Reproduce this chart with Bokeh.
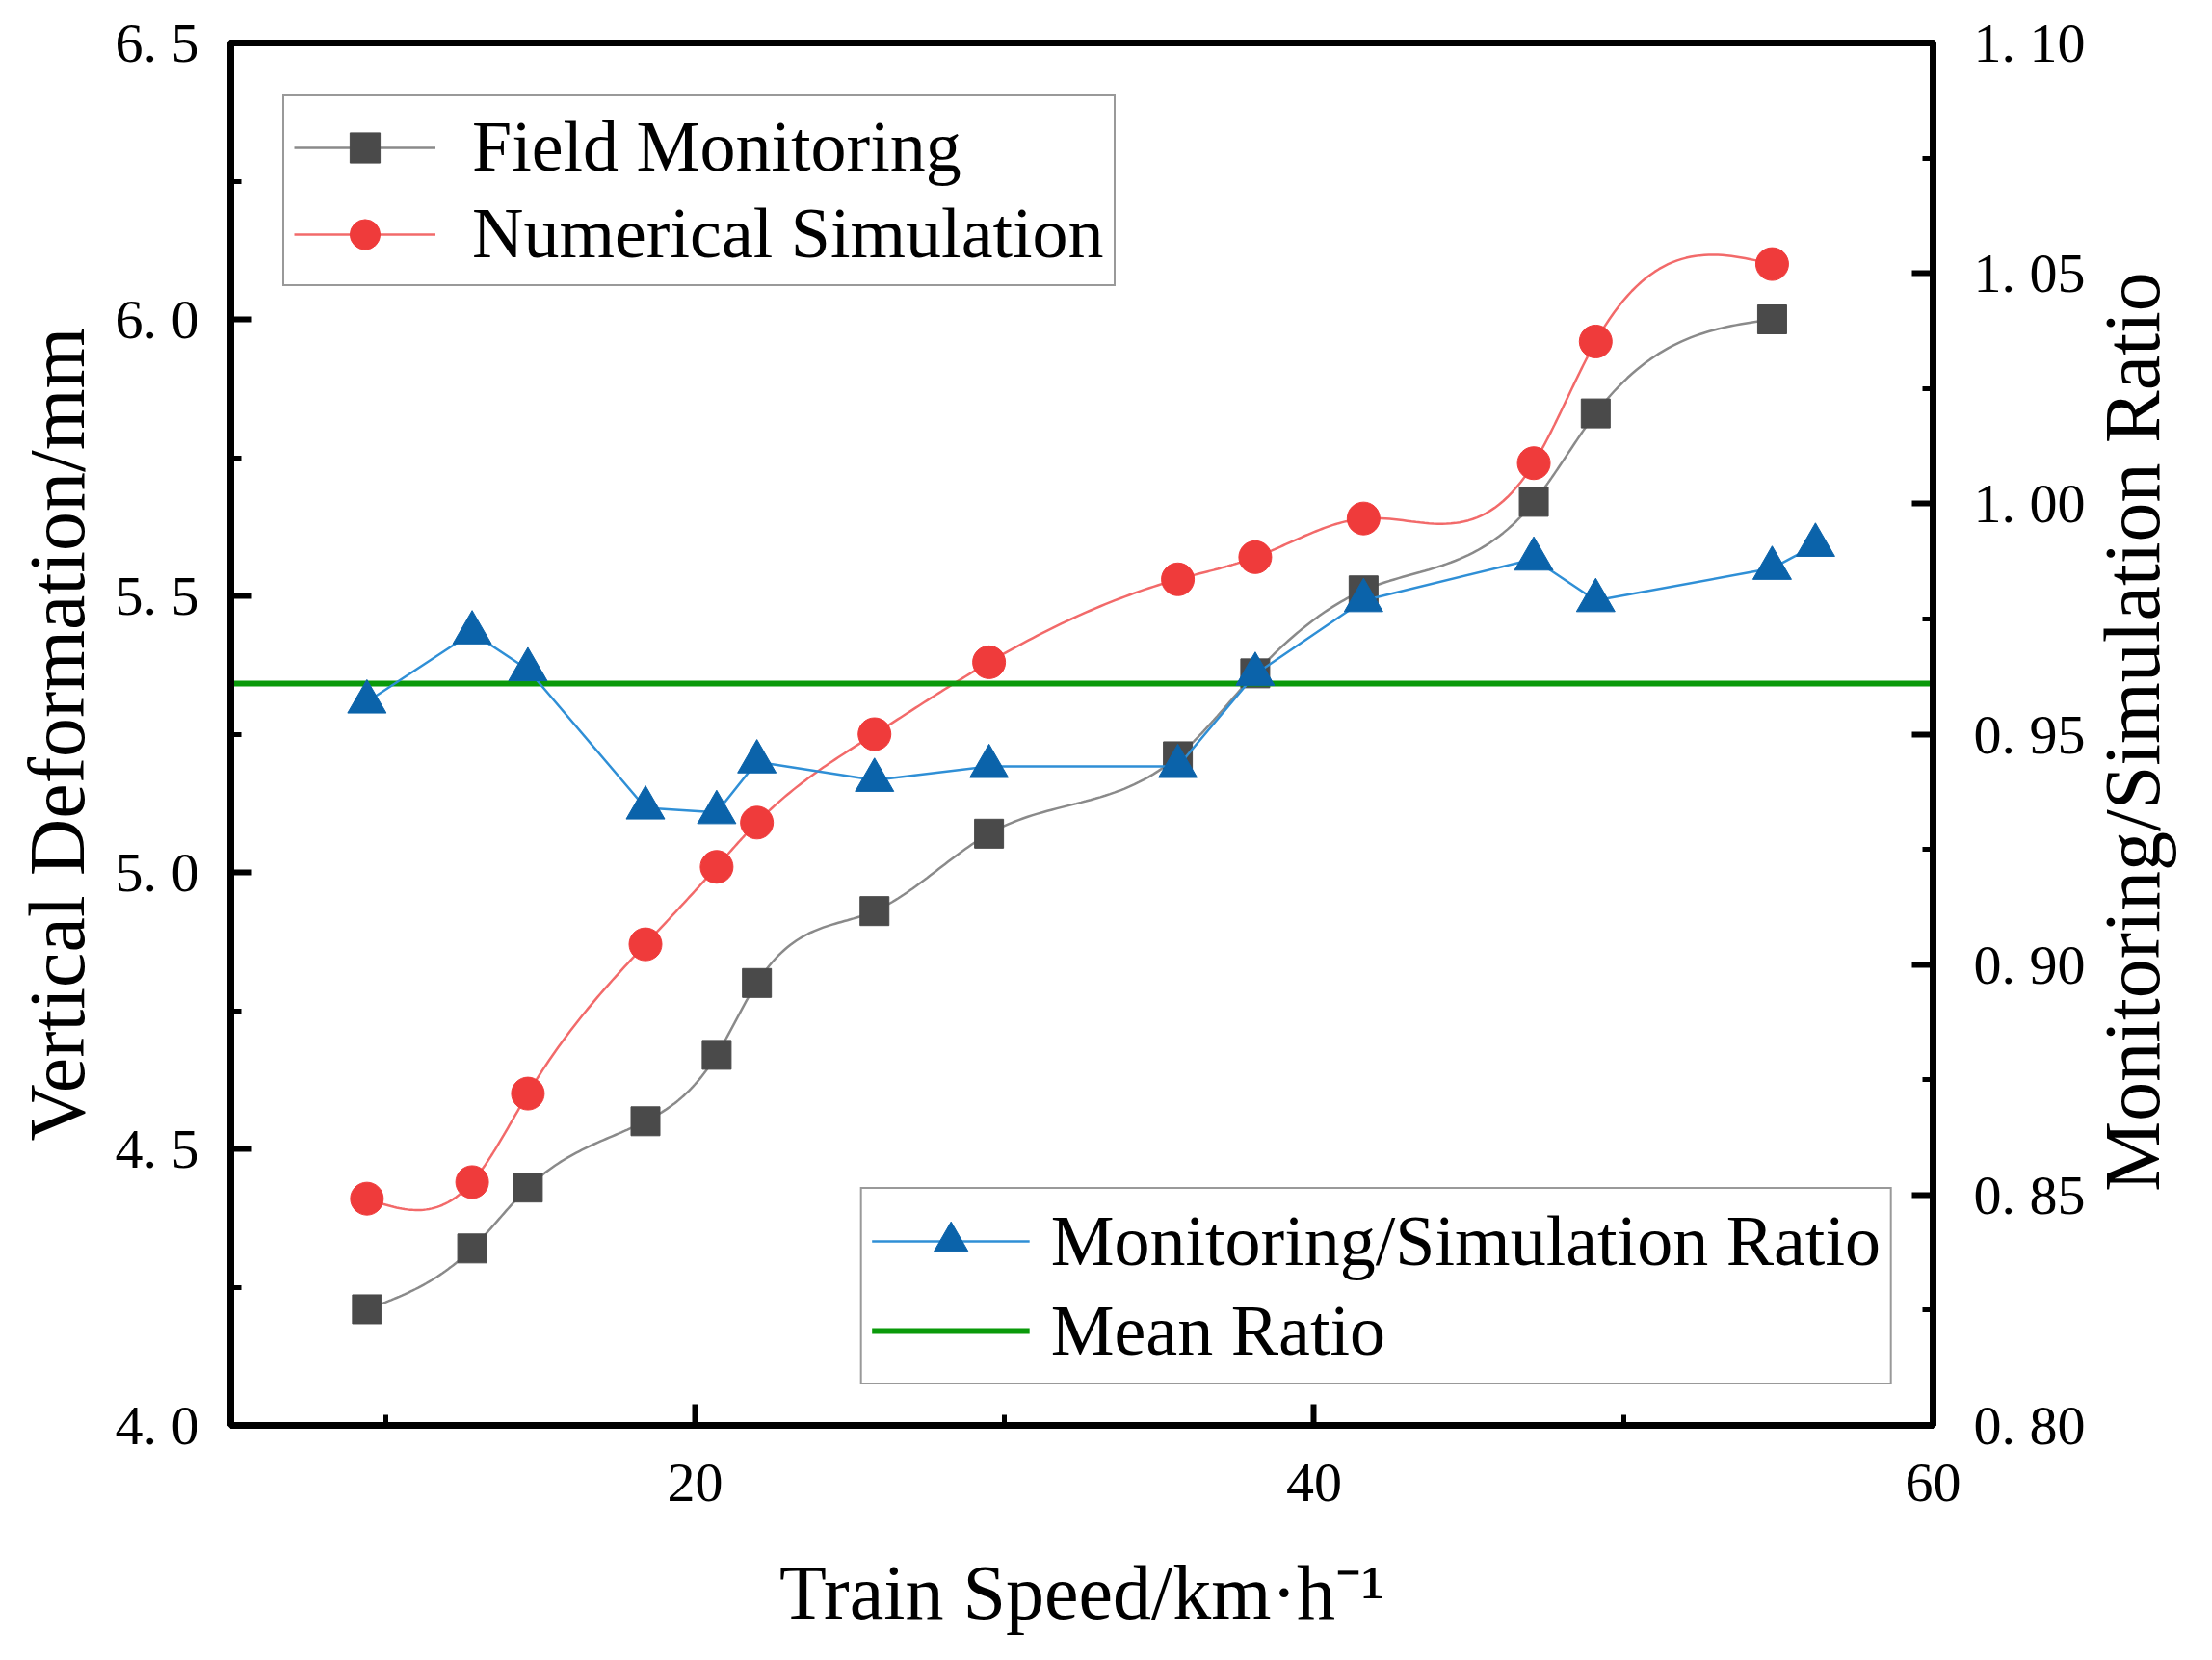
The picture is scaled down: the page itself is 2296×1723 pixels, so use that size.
import math
import numpy as np
from bokeh.plotting import figure
from bokeh.layouts import row
from bokeh.models import Range1d, LinearAxis, FixedTicker, Legend, Label
from bokeh.embed import file_html
from bokeh.resources import INLINE

# data
speed = [9.4, 12.8, 14.6, 18.4, 20.7, 22.0, 25.8, 29.5, 35.6, 38.1, 41.6, 47.1, 49.1, 54.8]
field = [4.21, 4.32, 4.43, 4.55, 4.67, 4.80, 4.93, 5.07, 5.21, 5.36, 5.51, 5.67, 5.83, 6.00]
simulation = [4.41, 4.44, 4.60, 4.87, 5.01, 5.09, 5.25, 5.38, 5.53, 5.57, 5.64, 5.74, 5.96, 6.10]
ratio_speed = [9.4, 12.8, 14.6, 18.4, 20.7, 22.0, 25.8, 29.5, 35.6, 38.1, 41.6, 47.1, 49.1, 54.8, 56.2]
ratio = [0.957, 0.972, 0.964, 0.934, 0.933, 0.944, 0.940, 0.943, 0.943, 0.963, 0.979, 0.988, 0.979, 0.986, 0.991]
mean_ratio = 0.961

x_ticks = [20, 40, 60]
x_minor = [10, 30, 50]
y_ticks = [4.0, 4.5, 5.0, 5.5, 6.0, 6.5]
y_minor = [4.25, 4.75, 5.25, 5.75, 6.25]
r_ticks = [0.80, 0.85, 0.90, 0.95, 1.00, 1.05, 1.10]
r_minor = [0.825, 0.875, 0.925, 0.975, 1.025, 1.075]

FONT = "Liberation Serif"
FW, FH = 1767, 1435
LEFT, RIGHT, TOP, BOTTOM = 239, 160, 44, 228
W2, H2 = 2280 - (LEFT + FW + RIGHT), 1707


def spline(xs, ys, n=40):
    # natural cubic spline, like the smooth connector of the original
    x = np.asarray(xs, float)
    y = np.asarray(ys, float)
    m = len(x)
    h = np.diff(x)
    A = np.zeros((m, m))
    b = np.zeros(m)
    A[0, 0] = 1
    A[-1, -1] = 1
    for i in range(1, m - 1):
        A[i, i - 1] = h[i - 1]
        A[i, i] = 2 * (h[i - 1] + h[i])
        A[i, i + 1] = h[i]
        b[i] = 6 * ((y[i + 1] - y[i]) / h[i] - (y[i] - y[i - 1]) / h[i - 1])
    M = np.linalg.solve(A, b)
    xx, yy = [], []
    for i in range(m - 1):
        t = np.linspace(x[i], x[i + 1], n)
        a = x[i + 1] - t
        c = t - x[i]
        s = (M[i] * a ** 3 + M[i + 1] * c ** 3) / (6 * h[i]) \
            + (y[i] / h[i] - M[i] * h[i] / 6) * a + (y[i + 1] / h[i] - M[i + 1] * h[i] / 6) * c
        xx.extend(t)
        yy.extend(s)
    return xx, yy


p = figure(frame_width=FW, frame_height=FH, output_backend="svg", toolbar_location=None,
           x_range=Range1d(5, 60), y_range=Range1d(4.0, 6.5),
           min_border_left=LEFT, min_border_right=RIGHT, min_border_top=TOP, min_border_bottom=BOTTOM)
p.extra_y_ranges = {"ratio": Range1d(0.80, 1.10)}
p.grid.visible = False
p.outline_line_color = "black"
p.outline_line_width = 7
p.background_fill_color = "white"
p.border_fill_color = "white"

# lines and markers
fx, fy = spline(speed, field)
sx, sy = spline(speed, simulation)
r_field_line = p.line(fx, fy, color="#8a8a8a", line_width=2.5)
r_field = p.scatter(speed, field, marker="square", size=30, color="#4a4a4a")
r_sim_line = p.line(sx, sy, color="#f26a6a", line_width=2.5)
r_sim = p.scatter(speed, simulation, marker="circle", size=34, color="#ef3b3b")
r_mean = p.line([p.x_range.start, p.x_range.end], [mean_ratio, mean_ratio], y_range_name="ratio",
                color="#0a9a0a", line_width=6)
r_ratio_line = p.line(ratio_speed, ratio, y_range_name="ratio", color="#2f8fd6", line_width=2.5)
r_ratio = p.scatter(ratio_speed, ratio, y_range_name="ratio", marker="triangle", size=40, color="#0b63aa")

# axes
yr = LinearAxis(y_range_name="ratio")
p.add_layout(yr, "right")

for ax in [p.xaxis[0], p.yaxis[0], yr]:
    ax.axis_line_width = 7
    ax.major_tick_in = 22
    ax.major_tick_out = 0
    ax.minor_tick_in = 11
    ax.minor_tick_out = 0
    ax.major_tick_line_width = 6
    ax.minor_tick_line_width = 5
    ax.major_label_text_font = FONT
    ax.major_label_text_font_size = "58px"
    ax.major_label_text_color = "black"
    ax.axis_label_text_font = FONT
    ax.axis_label_text_font_size = "80px"
    ax.axis_label_text_font_style = "normal"
    ax.axis_label_text_color = "black"

p.xaxis[0].ticker = FixedTicker(ticks=x_ticks, minor_ticks=x_minor)
p.xaxis[0].axis_label = "Train Speed/km·h⁻¹"
p.xaxis[0].major_label_standoff = 40
p.xaxis[0].axis_label_standoff = 48

p.yaxis[0].ticker = FixedTicker(ticks=y_ticks, minor_ticks=y_minor)
p.yaxis[0].major_label_overrides = {v: f"{v:.1f}".replace(".", ". ") for v in y_ticks}
p.yaxis[0].axis_label = "Vertical Deformation/mm"
p.yaxis[0].axis_label_text_font_size = "82px"
p.yaxis[0].major_label_standoff = 33
p.yaxis[0].axis_label_standoff = 12

yr.ticker = FixedTicker(ticks=r_ticks, minor_ticks=r_minor)
yr.major_label_overrides = {v: f"{v:.2f}".replace(".", ". ") for v in r_ticks}
yr.major_label_standoff = 42

# legends
leg1 = Legend(items=[("Field Monitoring", [r_field_line, r_field]),
                     ("Numerical Simulation", [r_sim_line, r_sim])],
              location="top_left", margin=54)
leg2 = Legend(items=[("Monitoring/Simulation Ratio", [r_ratio_line, r_ratio]),
                     ("Mean Ratio", [r_mean])],
              location="bottom_right", margin=42)
for lg, gw, gh, st in [(leg1, 147, 78, 38), (leg2, 164, 88, 22)]:
    lg.glyph_width = gw
    lg.glyph_height = gh
    lg.label_standoff = st
    lg.label_text_font = FONT
    lg.label_text_font_size = "74px"
    lg.label_text_color = "black"
    lg.padding = 10
    lg.spacing = 5
    lg.border_line_color = "#333333"
    lg.border_line_width = 2
    lg.background_fill_color = "white"
    lg.background_fill_alpha = 1
    p.add_layout(lg)

# narrow strip on the right that carries the right axis title (bottom-to-top)
p2 = figure(width=W2, height=H2, output_backend="svg", toolbar_location=None,
            x_range=Range1d(0, W2), y_range=Range1d(0, H2),
            x_axis_type=None, y_axis_type=None, min_border=0)
p2.grid.visible = False
p2.outline_line_color = None
p2.border_fill_color = "white"
p2.add_layout(Label(x=46, y=H2 - (TOP + FH / 2) - 89, text="Monitoring/Simulation Ratio", angle=math.pi / 2,
                    text_align="center", text_baseline="middle",
                    text_font=FONT, text_font_size="82px", text_color="black"))

layout = row(p, p2, spacing=0)
open("out.html", "w").write(file_html(layout, INLINE))
